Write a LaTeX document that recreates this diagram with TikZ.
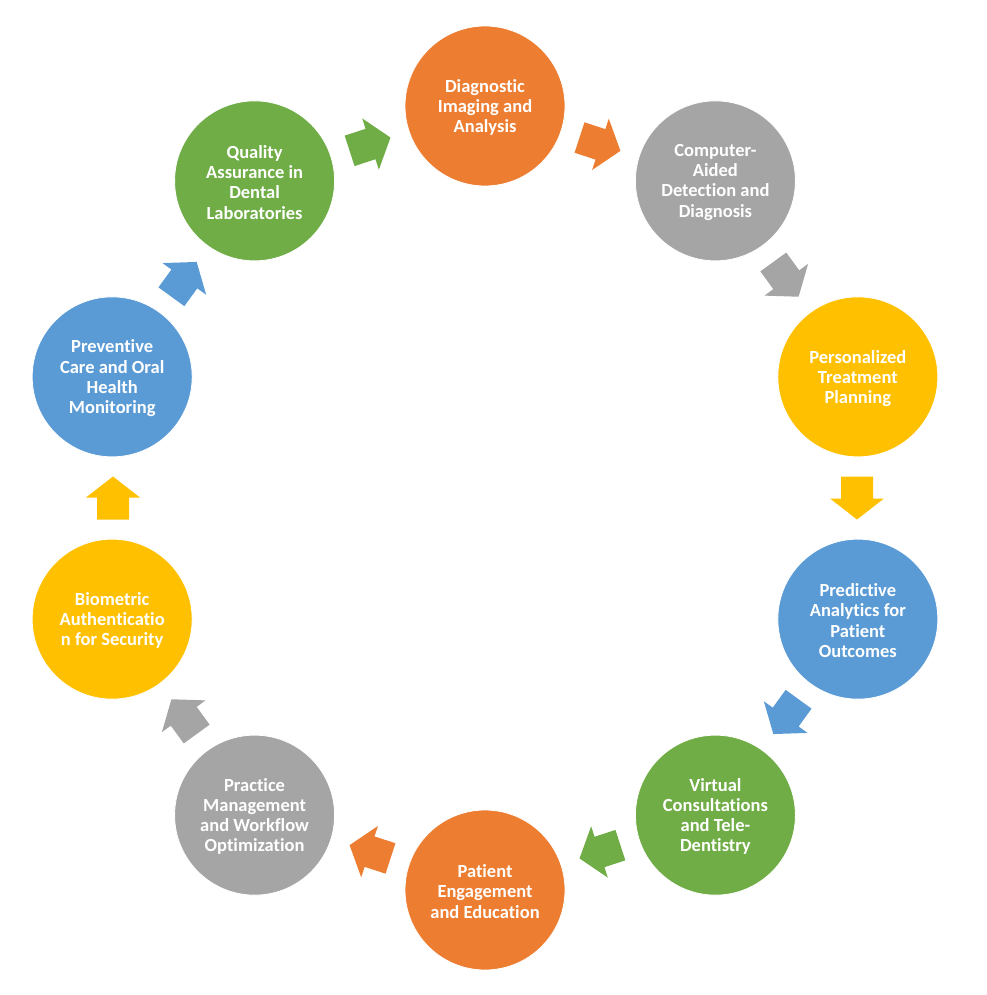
\documentclass[tikz,border=0pt]{standalone}
\usepackage{fontspec}
\setmainfont[RawFeature=-liga]{Carlito}
\usetikzlibrary{calc}
\definecolor{corange}{HTML}{ED7D31}
\definecolor{cgray}{HTML}{A5A5A5}
\definecolor{cyellow}{HTML}{FFC000}
\definecolor{cblue}{HTML}{5B9BD5}
\definecolor{cgreen}{HTML}{70AD47}
\tikzset{
  stagecircle/.style={circle, minimum size=160pt, inner sep=0pt, draw=white, line width=0.8pt},
  stagetext/.style={inner sep=0pt, text=white, font=\fontsize{18.5}{20.2}\selectfont\bfseries, align=center},
}
\begin{document}
\begin{tikzpicture}[x=1pt,y=1pt]
\useasboundingbox (0,0) rectangle (986,-995);
\coordinate (ctr) at (485,-498);
\foreach \i/\col/\txt in {
  0/corange/{Diagnostic\\Imaging and\\Analysis},
  1/cgray/{Computer-\\Aided\\Detection and\\Diagnosis},
  2/cyellow/{Personalized\\Treatment\\Planning},
  3/cblue/{Predictive\\Analytics for\\Patient\\Outcomes},
  4/cgreen/{Virtual\\Consultations\\and Tele-\\Dentistry},
  5/corange/{Patient\\Engagement\\and Education},
  6/cgray/{Practice\\Management\\and Workflow\\Optimization},
  7/cyellow/{Biometric\\Authenticatio\\n for Security},
  8/cblue/{Preventive\\Care and Oral\\Health\\Monitoring},
  9/cgreen/{Quality\\Assurance in\\Dental\\Laboratories}}{
  \pgfmathsetmacro{\ang}{90-36*\i}
  \pgfmathsetmacro{\aang}{72-36*\i}
  \node[stagecircle, fill=\col] (s\i) at ($(ctr)+(\ang:392)$) {};
  \node[stagetext] (t\i) at ([yshift=-1.5pt]s\i.center) {\txt};
  \coordinate (a\i) at ($(ctr)+(\aang:372)$);
  \begin{scope}[shift={(a\i)}, rotate=\aang-90]
    \fill[\col] (-21.5,-16) -- (0.5,-16) -- (0.5,-27) -- (21.5,0) -- (0.5,27) -- (0.5,16) -- (-21.5,16) -- cycle;
  \end{scope}
}
\end{tikzpicture}
\end{document}
